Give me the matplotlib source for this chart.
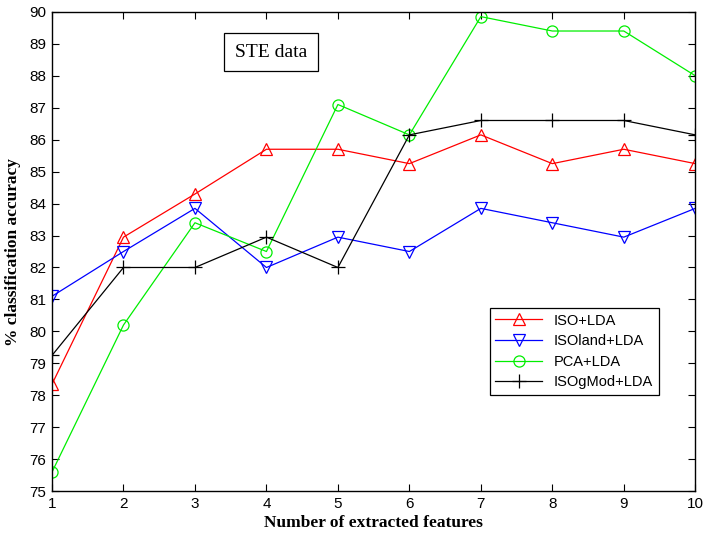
#!/usr/bin/env python3
"""Classification accuracy vs number of extracted features (STE data)."""

import matplotlib

matplotlib.use("Agg")
import matplotlib.pyplot as plt  # noqa: E402

features = [1, 2, 3, 4, 5, 6, 7, 8, 9, 10]
iso_lda = [78.35, 82.95, 84.3, 85.7, 85.7, 85.25, 86.15, 85.25, 85.7, 85.25]
isoland_lda = [81.1, 82.5, 83.85, 82.0, 82.95, 82.5, 83.85, 83.4, 82.95, 83.85]
pca_lda = [75.6, 80.2, 83.4, 82.5, 87.1, 86.15, 89.85, 89.4, 89.4, 88.0]
isogmod_lda = [79.25, 82.0, 82.0, 82.95, 82.0, 86.15, 86.6, 86.6, 86.6, 86.15]

SANS = ["Liberation Sans", "DejaVu Sans"]
SERIF = ["Liberation Serif", "DejaVu Serif"]

plt.rcParams.update(
    {
        "font.family": SANS,
        "font.size": 10,
        "xtick.direction": "in",
        "ytick.direction": "in",
        "xtick.top": True,
        "ytick.right": True,
        "xtick.major.size": 5,
        "ytick.major.size": 5,
        "axes.linewidth": 1.0,
    }
)

fig = plt.figure(figsize=(7.03, 5.38), dpi=100)
ax = fig.add_axes([0.074, 0.087, 0.915, 0.891])

series = [
    (iso_lda, "r", "^", 9, "ISO+LDA"),
    (isoland_lda, "b", "v", 9, "ISOland+LDA"),
    (pca_lda, "#00ee00", "o", 8, "PCA+LDA"),
    (isogmod_lda, "k", "+", 10, "ISOgMod+LDA"),
]
for values, color, marker, msize, label in series:
    ax.plot(
        features,
        values,
        color=color,
        marker=marker,
        markersize=msize,
        markerfacecolor="none",
        markeredgecolor=color,
        markeredgewidth=0.9,
        linewidth=0.9,
        label=label,
    )

ax.set_xlim(1, 10)
ax.set_ylim(75, 90)
ax.set_xticks(features)
ax.set_yticks(range(75, 91))
ax.tick_params(labelsize=11, pad=4)

ax.set_xlabel(
    "Number of extracted features", family=SERIF, fontweight="bold", fontsize=12.5,
    labelpad=3,
)
ax.set_ylabel(
    "% classification accuracy", family=SERIF, fontweight="bold", fontsize=12.5,
    labelpad=6,
)

ax.text(
    0.34,
    0.916,
    "STE data",
    transform=ax.transAxes,
    ha="center",
    va="center",
    family=SERIF,
    fontsize=14,
    bbox=dict(boxstyle="square,pad=0.55", facecolor="white", edgecolor="k", linewidth=0.9),
)

leg = ax.legend(
    loc="upper left",
    bbox_to_anchor=(0.669, 0.398),
    fancybox=False,
    edgecolor="k",
    framealpha=1,
    fontsize=10.5,
    handlelength=3.2,
    borderpad=0.4,
    labelspacing=0.45,
)
leg.get_frame().set_linewidth(0.9)

fig.savefig("out.png", dpi=100)
